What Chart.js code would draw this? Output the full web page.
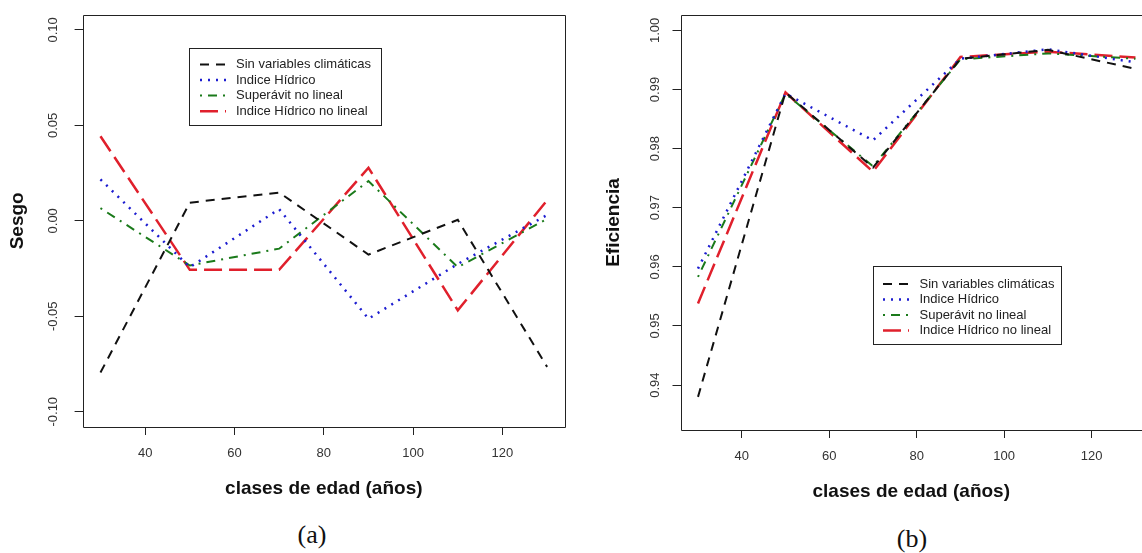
<!DOCTYPE html>
<html>
<head>
<meta charset="utf-8">
<script src="https://cdn.jsdelivr.net/npm/chart.js@4.4.1/dist/chart.umd.min.js"></script>
<style>
  body { margin: 0; background: #fff; width: 1142px; height: 553px; overflow: hidden; position: relative; }
  canvas { position: absolute; top: 0; }
  #cA { left: 0; }
  #cB { left: 570px; }
  .cap { position: absolute; font-family: "Liberation Serif", "Times New Roman", serif; font-size: 26px; color: #111; transform: translate(-50%, -50%); }
</style>
</head>
<body>
<canvas id="cA" width="570" height="510"></canvas>
<canvas id="cB" width="572" height="510"></canvas>
<div class="cap" style="left:312px;top:535px">(a)</div>
<div class="cap" style="left:912px;top:539px">(b)</div>
<script>
// datos
const edades = [30, 50, 70, 90, 110, 130];
const xTicks = [40, 60, 80, 100, 120];
const sesgoTicks = [-0.10, -0.05, 0.00, 0.05, 0.10];
const eficTicks = [0.94, 0.95, 0.96, 0.97, 0.98, 0.99, 1.00];
const nombres = ['Sin variables climáticas', 'Indice Hídrico', 'Superávit no lineal', 'Indice Hídrico no lineal'];

// (a) Sesgo
const sesgoSinVar = [-0.0795, 0.0095, 0.0148, -0.0177, 0.0005, -0.0765];
const sesgoIndice = [0.0217, -0.0243, 0.0061, -0.0513, -0.0226, 0.0030];
const sesgoSuperavit = [0.0066, -0.0234, -0.0146, 0.0208, -0.0243, 0.0010];
const sesgoIndiceNL = [0.0443, -0.0257, -0.0257, 0.0278, -0.0469, 0.0108];

// (b) Eficiencia
const eficSinVar = [0.9380, 0.9895, 0.9768, 0.9952, 0.9967, 0.9935];
const eficIndice = [0.9597, 0.9893, 0.9814, 0.9952, 0.9968, 0.9946];
const eficSuperavit = [0.9583, 0.9893, 0.9770, 0.9951, 0.9961, 0.9952];
const eficIndiceNL = [0.9538, 0.9895, 0.9761, 0.9955, 0.9964, 0.9954];

const estilos = [
  { color: '#111111', dash: [9, 7], width: 2 },
  { color: '#1c1cd0', dash: [2, 6], width: 2.5 },
  { color: '#1a7a1a', dash: [2, 6, 9, 6], width: 2 },
  { color: '#e0202c', dash: [18, 7], width: 2.5 }
];

const FONT = '"Liberation Sans", Arial, sans-serif';

// caja alrededor del area del grafico (estilo R)
const marco = {
  id: 'marco',
  afterDraw(chart, args, opts) {
    const { ctx, chartArea: a } = chart;
    const l = Math.round(a.left) + 0.5, t = Math.round(a.top) + 0.5, b = Math.round(a.bottom) + 0.5;
    const r = opts.openRight ? a.right + 20 : Math.round(a.right) + 0.5;
    ctx.save();
    ctx.strokeStyle = '#222';
    ctx.lineWidth = 1;
    ctx.beginPath();
    ctx.moveTo(r, t);
    ctx.lineTo(l, t);
    ctx.lineTo(l, b);
    ctx.lineTo(r, b);
    if (!opts.openRight) ctx.closePath();
    ctx.stroke();
    ctx.restore();
  }
};

// leyenda dentro del grafico
const leyenda = {
  id: 'leyenda',
  afterDraw(chart, args, o) {
    const ctx = chart.ctx;
    ctx.save();
    ctx.fillStyle = '#fff';
    ctx.fillRect(o.x, o.y, o.w, o.h);
    ctx.strokeStyle = '#222';
    ctx.lineWidth = 1;
    ctx.setLineDash([]);
    ctx.strokeRect(o.x + 0.5, o.y + 0.5, o.w, o.h);
    ctx.font = '13px ' + FONT;
    ctx.textBaseline = 'middle';
    chart.data.datasets.forEach((ds, i) => {
      const y = o.row0 + i * o.step;
      ctx.strokeStyle = ds.borderColor;
      ctx.lineWidth = ds.borderWidth;
      ctx.setLineDash(ds.borderDash);
      ctx.beginPath();
      ctx.moveTo(o.s0, y);
      ctx.lineTo(o.s1, y);
      ctx.stroke();
      ctx.fillStyle = '#222';
      ctx.fillText(ds.label, o.tx, y);
    });
    ctx.restore();
  }
};

function grafico(id, c) {
  const gridOpts = { display: true, drawOnChartArea: false, drawTicks: true, tickLength: 8, color: '#222', lineWidth: 1 };
  return new Chart(document.getElementById(id), {
    type: 'line',
    data: {
      datasets: c.series.map((vals, i) => ({
        label: nombres[i],
        data: edades.map((x, k) => ({ x: x, y: vals[k] })),
        borderColor: estilos[i].color,
        borderDash: estilos[i].dash,
        borderWidth: estilos[i].width,
        pointRadius: 0,
        tension: 0,
        fill: false
      }))
    },
    options: {
      responsive: false,
      animation: false,
      devicePixelRatio: 1,
      layout: { padding: c.padding },
      plugins: {
        legend: { display: false },
        tooltip: { enabled: false },
        marco: { openRight: c.openRight },
        leyenda: c.leyenda
      },
      scales: {
        x: {
          type: 'linear',
          min: c.xMin,
          max: c.xMax,
          afterBuildTicks: s => { s.ticks = xTicks.map(v => ({ value: v })); },
          afterFit: s => { s.height = c.xHeight; },
          grid: gridOpts,
          border: { display: false },
          ticks: { font: { family: FONT, size: 13 }, color: '#333', padding: c.xTickPad, autoSkip: false, maxRotation: 0 },
          title: { display: true, text: 'clases de edad (años)', color: '#111',
                   font: { family: FONT, size: 19, weight: 'bold' }, padding: { top: 0, bottom: c.xTitlePad } }
        },
        y: {
          type: 'linear',
          min: c.yMin,
          max: c.yMax,
          afterBuildTicks: s => { s.ticks = c.yTicks.map(v => ({ value: v })); },
          afterFit: s => { s.width = c.yWidth; },
          grid: gridOpts,
          border: { display: false },
          ticks: { font: { family: FONT, size: 13 }, color: '#333', padding: c.yTickPad, autoSkip: false,
                   minRotation: 90, maxRotation: 90, crossAlign: 'center', callback: v => v.toFixed(2) },
          title: { display: true, text: c.yTitle, color: '#111',
                   font: { family: FONT, size: 19, weight: 'bold' }, padding: { top: c.yTitlePad, bottom: 0 } }
        }
      }
    },
    plugins: [marco, leyenda]
  });
}

grafico('cA', {
  series: [sesgoSinVar, sesgoIndice, sesgoSuperavit, sesgoIndiceNL],
  yTicks: sesgoTicks, yMin: -0.108, yMax: 0.108, yTitle: 'Sesgo',
  xMin: 26, xMax: 134,
  padding: { top: 14, right: 5, left: 0, bottom: 0 },
  yWidth: 82.6, xHeight: 83,
  xTickPad: 10.5, xTitlePad: 10.3, yTickPad: 6.8, yTitlePad: 6.6,
  openRight: false,
  leyenda: { x: 189, y: 48, w: 192, h: 77, s0: 200, s1: 226, tx: 236, row0: 64.4, step: 15.6 }
});

grafico('cB', {
  series: [eficSinVar, eficIndice, eficSuperavit, eficIndiceNL],
  yTicks: eficTicks, yMin: 0.9324, yMax: 1.0026, yTitle: 'Eficiencia',
  xMin: 26, xMax: 131.5,
  padding: { top: 15, right: 0, left: 0, bottom: 0 },
  yWidth: 110.5, xHeight: 80,
  xTickPad: 10.9, xTitlePad: 6.9, yTickPad: 4.85, yTitlePad: 32.6,
  openRight: true,
  leyenda: { x: 303, y: 266, w: 188, h: 78, s0: 313, s1: 339, tx: 349.5, row0: 284, step: 15.5 }
});
</script>
</body>
</html>
